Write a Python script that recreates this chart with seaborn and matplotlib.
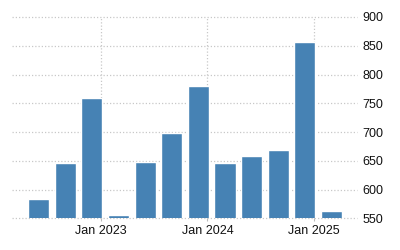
import matplotlib
matplotlib.use("Agg")
import matplotlib.pyplot as plt
import seaborn as sns
import numpy as np
import pandas as pd

# Data (quarterly)
bar_dates = ["2022-06-01", "2022-09-01", "2022-12-01", "2023-03-01",
             "2023-06-01", "2023-09-01", "2023-12-01", "2024-03-01",
             "2024-06-01", "2024-09-01", "2024-12-01", "2025-03-01"]
values = [584, 646, 759, 556, 648, 698, 780, 646, 658, 669, 856, 563]
tick_dates = ["2023-01-01", "2024-01-01", "2025-01-01"]
tick_labels = ["Jan 2023", "Jan 2024", "Jan 2025"]
y_ticks = [550, 600, 650, 700, 750, 800, 850, 900]

sns.set_theme(style="white")
plt.rcParams['font.family'] = ['Liberation Sans', 'DejaVu Sans']

df = pd.DataFrame({"date": bar_dates, "value": values})

fig = plt.figure(figsize=(4, 2.5), dpi=100)
ax = fig.add_axes([0.03, 0.1268, 0.862, 0.8052])

sns.barplot(data=df, x="date", y="value", color="#4682B4", saturation=1,
            width=0.79, ax=ax, zorder=3)

# tick positions from dates relative to bar dates
bd = pd.to_datetime(df["date"]).map(pd.Timestamp.toordinal).to_numpy()
td = pd.to_datetime(pd.Series(tick_dates)).map(pd.Timestamp.toordinal).to_numpy()
tick_pos = np.interp(td, bd, np.arange(len(bd)))

ax.set_xticks(tick_pos)
ax.set_xticklabels(tick_labels)
ax.set_ylim(550, 900)
ax.set_yticks(y_ticks)
ax.set_xlim(-1.0, 11.95)
ax.yaxis.tick_right()
ax.set_xlabel("")
ax.set_ylabel("")

for s in ax.spines.values():
    s.set_visible(False)

ax.grid(True, axis="both", color="#c8c8c8", linestyle=(0, (1, 1.6)), linewidth=0.9, zorder=0)
for gl in ax.get_xgridlines() + ax.get_ygridlines():
    gl.set_clip_on(False)
ax.set_axisbelow(True)
ax.tick_params(axis="y", length=0, pad=4, labelsize=9, labelcolor="#111111")
ax.tick_params(axis="x", length=2.5, width=0.8, color="#bbbbbb", pad=2, labelsize=9,
               labelcolor="#111111", bottom=True)

fig.savefig("out.png", dpi=100)
